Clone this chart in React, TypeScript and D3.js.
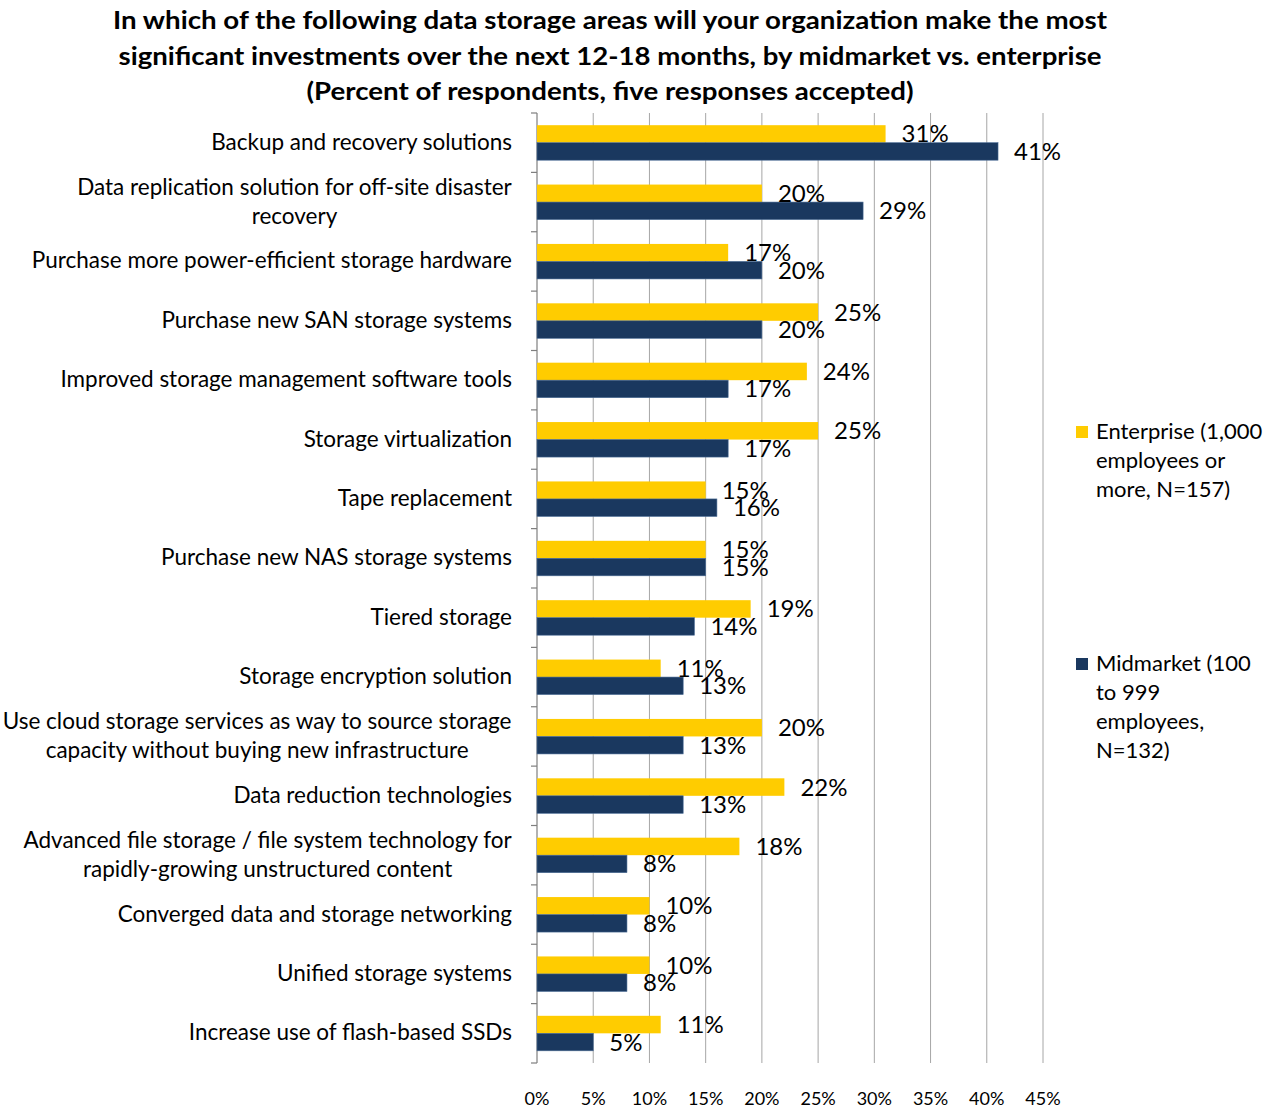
import React from "react";
import * as d3 from "d3";

const titleLines = [
  "In which of the following data storage areas will your organization make the most",
  "significant investments over the next 12-18 months, by midmarket vs. enterprise",
  "(Percent of respondents, five responses accepted)",
];

const categories: string[][] = [
  ["Backup and recovery solutions"],
  ["Data replication solution for off-site disaster", "recovery"],
  ["Purchase more power-efficient storage hardware"],
  ["Purchase new SAN storage systems"],
  ["Improved storage management software tools"],
  ["Storage virtualization"],
  ["Tape replacement"],
  ["Purchase new NAS storage systems"],
  ["Tiered storage"],
  ["Storage encryption solution"],
  ["Use cloud storage services as way to source storage", "capacity without buying new infrastructure"],
  ["Data reduction technologies"],
  ["Advanced file storage / file system technology for", "rapidly-growing unstructured content"],
  ["Converged data and storage networking"],
  ["Unified storage systems"],
  ["Increase use of flash-based SSDs"],
];

const enterprise = [31, 20, 17, 25, 24, 25, 15, 15, 19, 11, 20, 22, 18, 10, 10, 11];
const midmarket = [41, 29, 20, 20, 17, 17, 16, 15, 14, 13, 13, 13, 8, 8, 8, 5];
const xTicks = [0, 5, 10, 15, 20, 25, 30, 35, 40, 45];

const legendEnterprise = ["Enterprise (1,000", "employees or", "more, N=157)"];
const legendMidmarket = ["Midmarket (100", "to 999", "employees,", "N=132)"];

const YELLOW = "#FFCC00";
const NAVY = "#1A385F";
const FONT = "Lato, 'Open Sans', sans-serif";
const CAT_SIZE = 22.5;

function measure(text: string, size: number): number {
  const c = document.createElement("canvas").getContext("2d");
  if (!c) return text.length * size * 0.5;
  c.font = `${size}px Lato`;
  return c.measureText(text).width;
}

export default function App() {
  const W = 1276;
  const H = 1110;
  const x0 = 537;
  const x1 = 1043;
  const top = 113;
  const bottom = 1063;

  const x = d3.scaleLinear().domain([0, 45]).range([x0, x1]);
  const idx = categories.map((_, i) => i);
  const y = d3.scaleBand<number>().domain(idx).range([top, bottom]);
  const step = y.step();
  const barH = 17.5;

  return (
    <svg width={W} height={H} style={{ display: "block", position: "absolute", left: 0, top: 0 }} fontFamily={FONT}>
      <rect width={W} height={H} fill="#fff" />
      {titleLines.map((t, i) => (
        <text key={i} x={610} y={29 + i * 35.5} textAnchor="middle" fontSize={24.5} fontWeight={700} fill="#000"
          textLength={i === 0 ? 994 : i === 1 ? 983 : 607} lengthAdjust="spacingAndGlyphs">
          {t}
        </text>
      ))}
      {xTicks.slice(1).map((t) => (
        <line key={t} x1={x(t)} x2={x(t)} y1={top} y2={bottom} stroke="#A6A6A6" strokeWidth={1} />
      ))}
      <line x1={x0} x2={x0} y1={top} y2={bottom} stroke="#7F7F7F" strokeWidth={1.2} />
      {d3.range(categories.length + 1).map((i) => (
        <line key={i} x1={x0 - 6} x2={x0} y1={top + i * step} y2={top + i * step} stroke="#7F7F7F" strokeWidth={1.2} />
      ))}
      {idx.map((i) => {
        const c = (y(i) as number) + step / 2;
        return (
          <g key={i}>
            <rect x={x0} y={c - barH} width={x(enterprise[i]) - x0} height={barH} fill={YELLOW} />
            <rect x={x0} y={c} width={x(midmarket[i]) - x0} height={barH} fill={NAVY} stroke="#4A6B94" strokeWidth={0.6} />
            <text x={x(enterprise[i]) + 16} y={c - barH / 2 + 8.5} fontSize={24} fill="#000">{enterprise[i]}%</text>
            <text x={x(midmarket[i]) + 16} y={c + barH / 2 + 8.5} fontSize={24} fill="#000">{midmarket[i]}%</text>
          </g>
        );
      })}
      {categories.map((lines, i) => {
        const c = (y(i) as number) + step / 2;
        const lh = 29;
        if (lines.length === 1) {
          return (
            <text key={i} x={512} y={c + 7} textAnchor="end" fontSize={CAT_SIZE} fill="#000">{lines[0]}</text>
          );
        }
        const maxW = Math.max(...lines.map((l) => measure(l, CAT_SIZE)));
        const cx = 512 - maxW / 2;
        return (
          <text key={i} textAnchor="middle" fontSize={CAT_SIZE} fill="#000">
            {lines.map((l, j) => (
              <tspan key={j} x={cx} y={c + 7 - lh / 2 + j * lh}>{l}</tspan>
            ))}
          </text>
        );
      })}
      {xTicks.map((t) => (
        <text key={t} x={x(t)} y={1105} textAnchor="middle" fontSize={18} fill="#000">{t}%</text>
      ))}
      <rect x={1076} y={426} width={12} height={12} fill={YELLOW} />
      {legendEnterprise.map((l, j) => (
        <text key={j} x={1096} y={439 + j * 29} fontSize={22} fill="#000">{l}</text>
      ))}
      <rect x={1076} y={658} width={12} height={12} fill={NAVY} />
      {legendMidmarket.map((l, j) => (
        <text key={j} x={1096} y={671 + j * 29} fontSize={22} fill="#000">{l}</text>
      ))}
    </svg>
  );
}
